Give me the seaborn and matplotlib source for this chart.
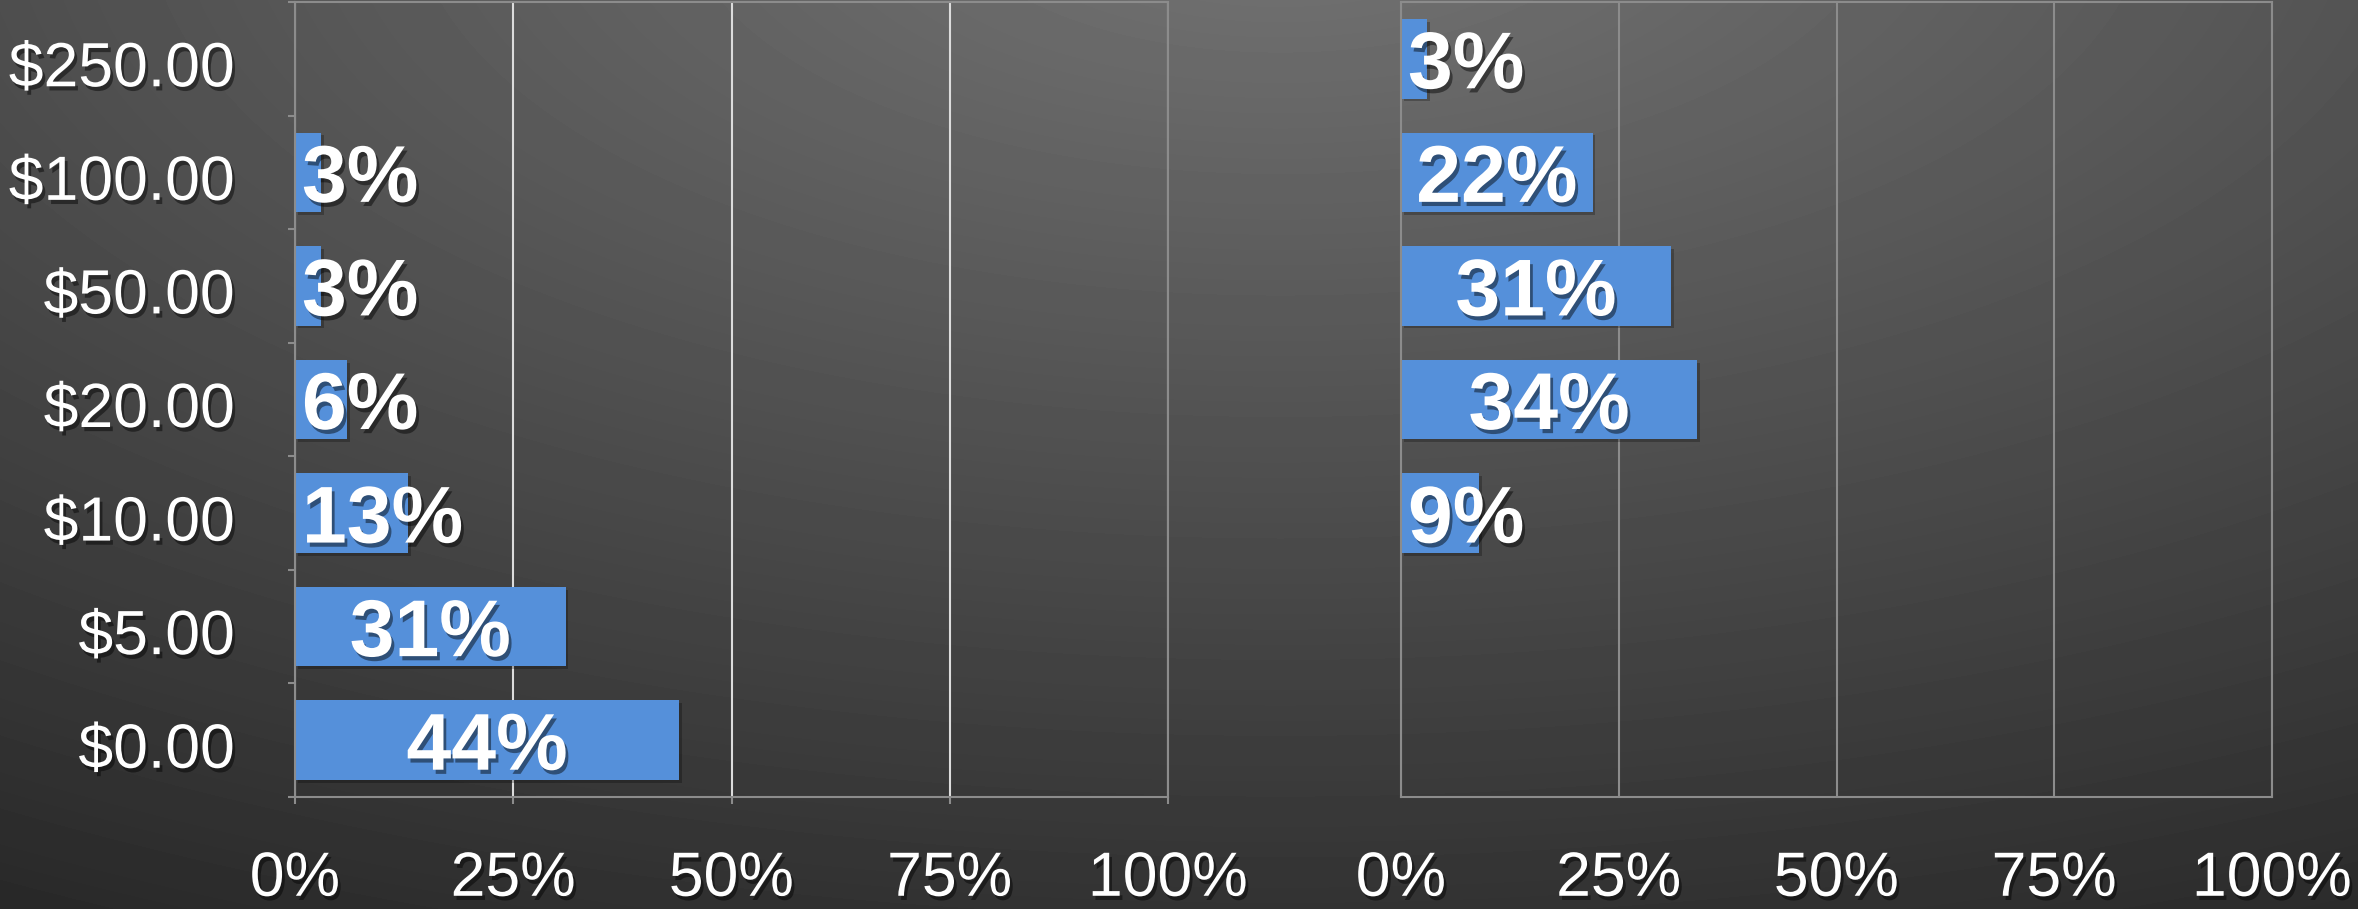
import numpy as np
import pandas as pd
import matplotlib
matplotlib.use("Agg")
import matplotlib.pyplot as plt
import matplotlib.patheffects as pe
import matplotlib.transforms as mtrans
import seaborn as sns

# ---------------- data ----------------
categories = ["$250.00", "$100.00", "$50.00", "$20.00", "$10.00", "$5.00", "$0.00"]
left_values = [0, 3, 3, 6, 13, 31, 44]
right_values = [3, 22, 31, 34, 9, 0, 0]
x_ticks = [0, 25, 50, 75, 100]
x_tick_labels = ["0%", "25%", "50%", "75%", "100%"]

# ---------------- style ----------------
sns.set_style("white")
plt.rcParams["font.family"] = ["Liberation Sans", "DejaVu Sans"]

BAR = "#5590da"
SPINE = "#8c8c8c"
W, H = 2358, 909

fig = plt.figure(figsize=(W / 100, H / 100), dpi=100)

# background radial gradient
bg = fig.add_axes([0, 0, 1, 1], zorder=-10)
yy, xx = np.mgrid[0:H, 0:W]
d = np.sqrt(((xx - 1280) / 2.2) ** 2 + (yy + 100) ** 2)
v = np.clip(110 - 0.0656 * (d - 100), 40, 255) / 255
bg.imshow(v, cmap="gray", vmin=0, vmax=1, extent=[0, 1, 0, 1], aspect="auto",
          interpolation="bilinear")
bg.axis("off")

TOP, BOTTOM = 2, 797
ax1 = fig.add_axes([295 / W, 1 - BOTTOM / H, (1168 - 295) / W, (BOTTOM - TOP) / H])
ax2 = fig.add_axes([1401 / W, 1 - BOTTOM / H, (2272 - 1401) / W, (BOTTOM - TOP) / H])

shadow_txt = [pe.withSimplePatchShadow(offset=(2, -3), shadow_rgbFace="black", alpha=0.45)]
shadow_bar = [pe.SimplePatchShadow(offset=(2, -2), shadow_rgbFace="black", alpha=0.25), pe.Normal()]
ylabel_shift = mtrans.ScaledTranslation(0, -0.045, fig.dpi_scale_trans)


def draw(ax, values, grid_color, show_y):
    df = pd.DataFrame({"price": categories, "share": values})
    sns.barplot(data=df, x="share", y="price", order=categories, orient="h",
                color=BAR, saturation=1, width=0.7, linewidth=0, ax=ax)
    ax.set_facecolor("none")
    ax.set_xlim(0, 100)
    ax.set_ylim(len(categories) - 0.5, -0.5)
    ax.set_xlabel("")
    ax.set_ylabel("")
    ax.set_axisbelow(True)
    ax.set_xticks(x_ticks)
    ax.set_xticklabels(x_tick_labels)
    ax.xaxis.grid(True, color=grid_color, linewidth=1.5)
    ax.yaxis.grid(False)
    for s in ax.spines.values():
        s.set_visible(True)
        s.set_color(SPINE)
        s.set_linewidth(1.5)
    for p in ax.patches:
        p.set_path_effects(shadow_bar)
    if show_y:
        ax.tick_params(axis="x", which="major", length=5, width=1.5, color=SPINE,
                       labelsize=45, labelcolor="white", pad=33, bottom=True)
        ax.tick_params(axis="y", which="major", length=0, labelsize=45,
                       labelcolor="white", pad=43, left=True)
        ax.set_yticks(np.arange(-0.5, len(categories), 1), minor=True)
        ax.tick_params(axis="y", which="minor", length=5, width=1.5, color=SPINE, left=True)
        for lbl in ax.get_yticklabels():
            lbl.set_transform(lbl.get_transform() + ylabel_shift)
    else:
        ax.tick_params(axis="x", which="major", length=0, labelsize=45,
                       labelcolor="white", pad=38, bottom=True)
        ax.set_yticks([])
    for lbl in ax.get_xticklabels() + ax.get_yticklabels():
        lbl.set_path_effects(shadow_txt)
    # value labels
    for i, val in enumerate(values):
        if val == 0:
            continue
        if val >= 20:
            xpos, ha = val / 2, "center"
        else:
            xpos, ha = 0.8, "left"
        ax.text(xpos, i, f"{val}%", ha=ha, va="center_baseline", fontsize=58,
                fontweight="bold", color="white", path_effects=shadow_txt, zorder=5)


draw(ax1, left_values, "#dcdcdc", True)
draw(ax2, right_values, SPINE, False)

fig.savefig("out.png", dpi=100)
